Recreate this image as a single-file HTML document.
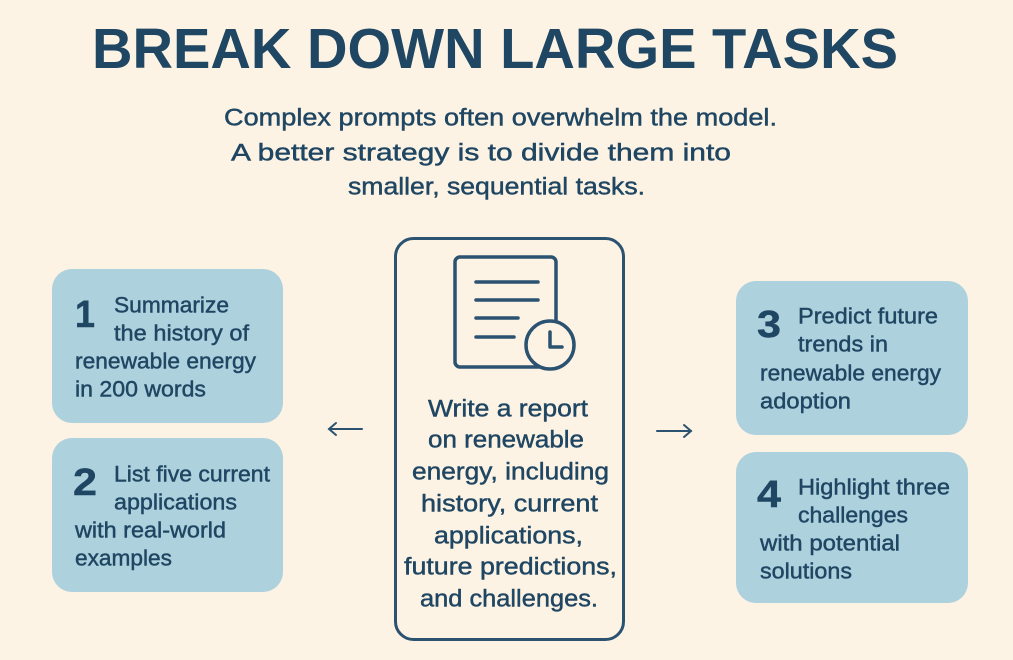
<!DOCTYPE html>
<html><head><meta charset="utf-8"><style>
html,body{margin:0;padding:0;background:#fdf3e4;}
svg{display:block;}
text{font-family:"Liberation Sans",sans-serif;fill:#1f4662;dominant-baseline:central;}
.m{stroke:#1f4662;stroke-width:0.45;}
</style></head><body>
<svg width="1013" height="660" viewBox="0 0 1013 660" xmlns="http://www.w3.org/2000/svg">
<rect width="1013" height="660" fill="#fdf3e4"/>
<text x="92" y="49" font-size="57" font-weight="bold" textLength="806" lengthAdjust="spacingAndGlyphs" fill="#1e4560">BREAK DOWN LARGE TASKS</text>
<g font-size="24" class="m">
<text x="224" y="118" textLength="553" lengthAdjust="spacingAndGlyphs">Complex prompts often overwhelm the model.</text>
<text x="231" y="153" textLength="500" lengthAdjust="spacingAndGlyphs">A better strategy is to divide them into</text>
<text x="348" y="187" textLength="297" lengthAdjust="spacingAndGlyphs">smaller, sequential tasks.</text>
</g>
<g fill="#aed1de">
<rect x="52" y="269" width="231" height="154" rx="20"/>
<rect x="52" y="438" width="231" height="154" rx="20"/>
<rect x="736" y="281" width="232" height="154" rx="20"/>
<rect x="736" y="452" width="232" height="151" rx="20"/>
</g>
<rect x="395.5" y="238.5" width="228" height="401" rx="18" fill="none" stroke="#2b5270" stroke-width="3"/>
<g fill="none" stroke="#2b5270" stroke-width="3.5" stroke-linecap="round">
<rect x="455" y="257" width="101" height="110" rx="5"/>
<line x1="476" y1="282" x2="538" y2="282"/>
<line x1="476" y1="300" x2="538" y2="300"/>
<line x1="476" y1="318" x2="518" y2="318"/>
<line x1="476" y1="337" x2="514" y2="337"/>
<circle cx="550" cy="345" r="24" fill="#fdf3e4"/>
<polyline points="550,332 550,347 562,347" stroke-linejoin="round"/>
</g>
<g stroke="#2b5270" stroke-width="2" fill="none" stroke-linecap="round">
<line x1="329" y1="429" x2="362" y2="429"/><polyline points="336,423 329,429 336,435"/>
<line x1="657" y1="431" x2="691" y2="431"/><polyline points="684,425 691,431 684,437"/>
</g>
<g font-size="22" class="m">
<text x="75" y="315" font-size="38" font-weight="bold" textLength="20" lengthAdjust="spacingAndGlyphs">1</text>
<text x="114" y="305" textLength="115" lengthAdjust="spacingAndGlyphs">Summarize</text>
<text x="114" y="333" textLength="135" lengthAdjust="spacingAndGlyphs">the history of</text>
<text x="75" y="361" textLength="181" lengthAdjust="spacingAndGlyphs">renewable energy</text>
<text x="75" y="389" textLength="131" lengthAdjust="spacingAndGlyphs">in 200 words</text>

<text x="73" y="483" font-size="38" font-weight="bold" textLength="24" lengthAdjust="spacingAndGlyphs">2</text>
<text x="114" y="474" textLength="156" lengthAdjust="spacingAndGlyphs">List five current</text>
<text x="114" y="502" textLength="123" lengthAdjust="spacingAndGlyphs">applications</text>
<text x="75" y="530" textLength="151" lengthAdjust="spacingAndGlyphs">with real-world</text>
<text x="75" y="558" textLength="97" lengthAdjust="spacingAndGlyphs">examples</text>

<text x="757" y="325" font-size="38" font-weight="bold" textLength="24" lengthAdjust="spacingAndGlyphs">3</text>
<text x="798" y="316" textLength="140" lengthAdjust="spacingAndGlyphs">Predict future</text>
<text x="798" y="344" textLength="90" lengthAdjust="spacingAndGlyphs">trends in</text>
<text x="760" y="373" textLength="181" lengthAdjust="spacingAndGlyphs">renewable energy</text>
<text x="760" y="401" textLength="91" lengthAdjust="spacingAndGlyphs">adoption</text>

<text x="757" y="495" font-size="38" font-weight="bold" textLength="24" lengthAdjust="spacingAndGlyphs">4</text>
<text x="798" y="487" textLength="152" lengthAdjust="spacingAndGlyphs">Highlight three</text>
<text x="798" y="515" textLength="110" lengthAdjust="spacingAndGlyphs">challenges</text>
<text x="760" y="543" textLength="140" lengthAdjust="spacingAndGlyphs">with potential</text>
<text x="760" y="571" textLength="92" lengthAdjust="spacingAndGlyphs">solutions</text>
</g>
<g font-size="24" class="m">
<text x="428" y="409" textLength="160" lengthAdjust="spacingAndGlyphs">Write a report</text>
<text x="428" y="440" textLength="156" lengthAdjust="spacingAndGlyphs">on renewable</text>
<text x="412" y="472" textLength="197" lengthAdjust="spacingAndGlyphs">energy, including</text>
<text x="421" y="504" textLength="177" lengthAdjust="spacingAndGlyphs">history, current</text>
<text x="434" y="536" textLength="149" lengthAdjust="spacingAndGlyphs">applications,</text>
<text x="404" y="567" textLength="213" lengthAdjust="spacingAndGlyphs">future predictions,</text>
<text x="420" y="599" textLength="178" lengthAdjust="spacingAndGlyphs">and challenges.</text>
</g>
</svg>
</body></html>
